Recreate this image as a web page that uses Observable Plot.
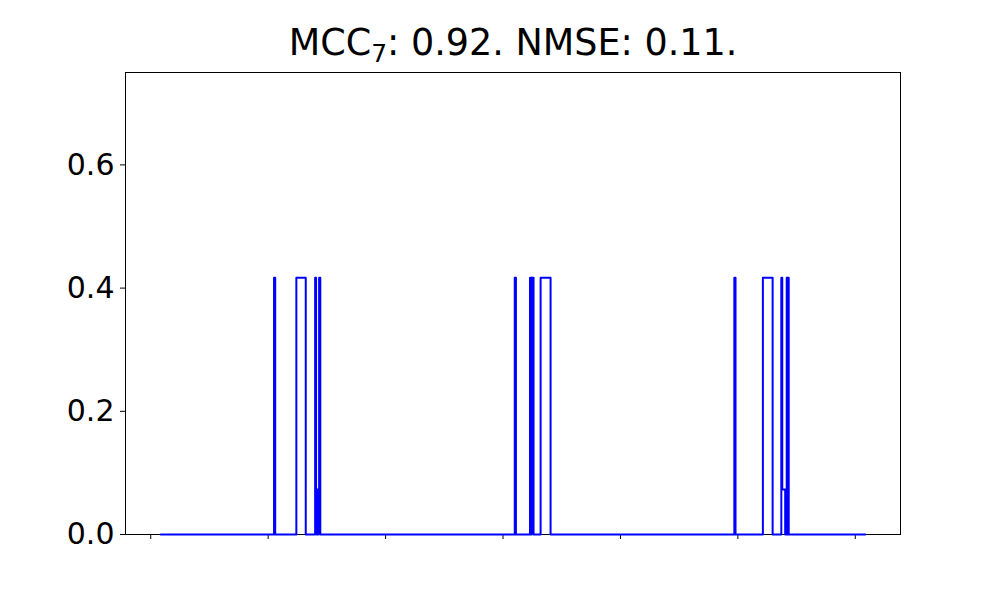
<!DOCTYPE html>
<html>
<head>
<meta charset="utf-8">
<script src="https://cdn.jsdelivr.net/npm/d3@7"></script>
<script src="https://cdn.jsdelivr.net/npm/@observablehq/plot@0.6"></script>
<style>
  html, body { margin: 0; padding: 0; background: #fff; }
</style>
</head>
<body>
<div id="chart"></div>
<script>
// Step-change points of the signal (step-after): x position, y value
const stepX = [8.5, 105, 106, 124, 132, 140, 140.8, 141.3, 141.8, 142.3, 142.8, 143.4, 144.4,
               310, 311, 323, 324.2, 324.4, 326, 332, 340.5,
               497, 498, 521.3, 529.6, 537, 537.8, 540.3, 540.8, 541.3, 541.6, 542.3, 542.6, 543.3,
               608.5];
const stepY = [0, 0.417, 0, 0.417, 0, 0.417, 0.073, 0, 0.073, 0, 0.073, 0.417, 0,
               0.417, 0, 0.417, 0, 0.417, 0, 0.417, 0,
               0.417, 0, 0.417, 0, 0.417, 0.073, 0, 0.073, 0, 0.417, 0, 0.417, 0,
               0];
const xTicks = [0, 100, 200, 300, 400, 500, 600];
const yTicks = [0, 0.2, 0.4, 0.6];
const titleParts = ["MCC", "7", ": 0.92. NMSE: 0.11."];
const titleText = titleParts.join("");

const data = stepX.map((x, i) => ({x, y: stepY[i]}));

const chart = Plot.plot({
  width: 1000,
  height: 600,
  marginLeft: 125,
  marginRight: 100,
  marginTop: 72,
  marginBottom: 66,
  style: {fontFamily: "DejaVu Sans", color: "black", background: "white"},
  x: {domain: [-21.5, 638.5]},
  y: {domain: [0, 0.75]},
  marks: [
    Plot.frame({stroke: "black", strokeWidth: 1}),
    Plot.axisY({ticks: yTicks, tickFormat: d3.format(".1f"), fontSize: 30, tickSize: 5, tickPadding: 6, label: null}),
    Plot.axisX({ticks: xTicks, tickFormat: () => "", tickSize: 5, label: null}),
    Plot.line(data, {x: "x", y: "y", curve: "step-after", stroke: "blue", strokeWidth: 2}),
    Plot.text([titleText], {frameAnchor: "top", lineAnchor: "bottom", dy: -18, fontSize: 36.5, fill: "black", className: "charttitle"})
  ]
});
// render the subscript with tspans
const t = d3.select(chart).select("g.charttitle text");
t.text(null);
t.append("tspan").text(titleParts[0]);
t.append("tspan").attr("font-size", "25px").attr("dy", "7px").text(titleParts[1]);
t.append("tspan").attr("dy", "-7px").text(titleParts[2]);
document.getElementById("chart").appendChild(chart);
</script>
</body>
</html>
